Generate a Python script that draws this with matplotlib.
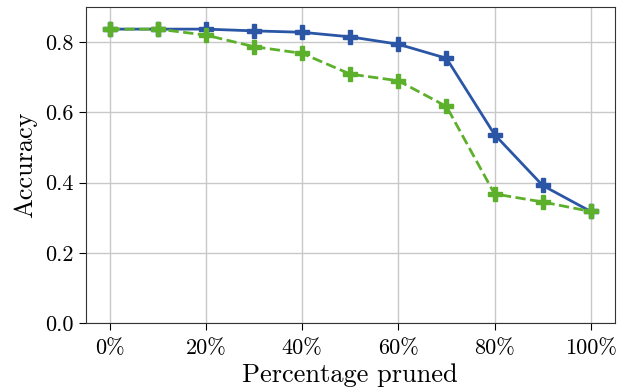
import matplotlib
matplotlib.use("Agg")
import matplotlib.pyplot as plt

plt.rcParams['font.family'] = 'serif'
plt.rcParams['font.serif'] = ['cmr10', 'DejaVu Serif']
plt.rcParams['mathtext.fontset'] = 'cm'
plt.rcParams['axes.formatter.use_mathtext'] = True

# fraction of weights pruned (%) and resulting accuracy
pruned = [0, 10, 20, 30, 40, 50, 60, 70, 80, 90, 100]
acc_a = [0.837, 0.837, 0.837, 0.832, 0.828, 0.815, 0.794, 0.754, 0.537, 0.392, 0.318]
acc_b = [0.837, 0.837, 0.820, 0.787, 0.768, 0.709, 0.690, 0.617, 0.368, 0.345, 0.318]
xticks = [0, 20, 40, 60, 80, 100]
xtick_labels = ['0%', '20%', '40%', '60%', '80%', '100%']

fig = plt.figure(figsize=(6.21, 3.88), dpi=100)
ax = fig.add_axes([0.138, 0.167, 0.852, 0.815])

ax.plot(pruned, acc_a, color='#2b56a6', marker='P', markersize=10, linewidth=2)
ax.plot(pruned, acc_b, color='#5db02c', marker='P', markersize=10, linewidth=2,
        linestyle='--')

ax.set_xticks(xticks)
ax.set_xticklabels(xtick_labels)
ax.set_yticks([0.0, 0.2, 0.4, 0.6, 0.8])
ax.set_yticklabels(['0.0', '0.2', '0.4', '0.6', '0.8'])
ax.set_xlim(-5, 105)
ax.set_ylim(0, 0.9)
ax.tick_params(labelsize=16, length=5)
ax.tick_params(axis='x', pad=6)
ax.grid(True, color='#c8c8c8', linewidth=1)
ax.set_axisbelow(True)
for s in ax.spines.values():
    s.set_color('#333333')

ax.set_xlabel('Percentage pruned', fontsize=19, labelpad=4)
ax.set_ylabel('Accuracy', fontsize=19, labelpad=6)

fig.savefig('out.png', dpi=100)
